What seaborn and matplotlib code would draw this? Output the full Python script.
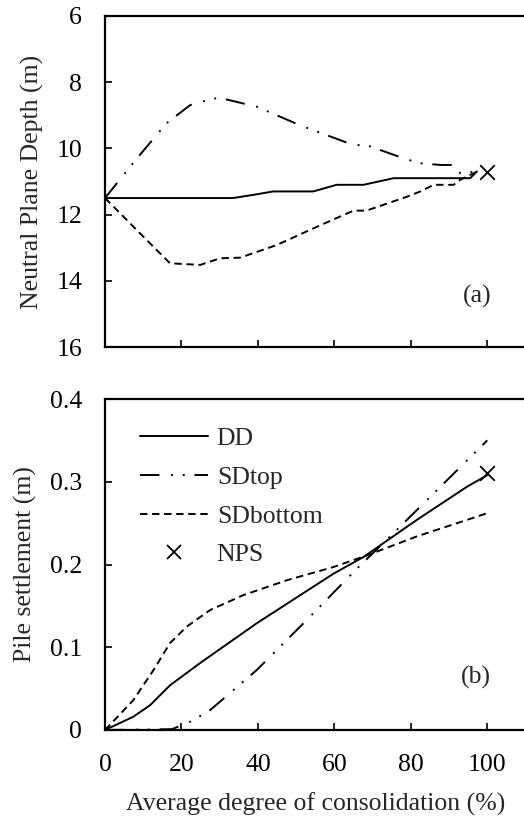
import matplotlib
matplotlib.use("Agg")
import matplotlib.pyplot as plt
import seaborn as sns
import pandas as pd
from matplotlib.lines import Line2D

sns.set_theme(style="ticks")
plt.rcParams['font.family'] = ['Liberation Serif', 'DejaVu Serif']

# ---- Panel (a): neutral plane depth ----
dd_a_x = [0, 10, 20, 30, 33.5, 39, 44, 54.5, 60.6, 67.6, 75.5, 85, 95.5, 97.3]
dd_a_y = [11.5, 11.5, 11.5, 11.5, 11.5, 11.4, 11.3, 11.3, 11.1, 11.1, 10.9, 10.9, 10.9, 10.7]

sdtop_a_x = [0, 8, 16.1, 22.3, 28.4, 31, 39.7, 51, 65, 68.4, 78.1, 82.5, 87.7, 91.6, 92.9, 97.3]
sdtop_a_y = [11.5, 10.35, 9.24, 8.69, 8.49, 8.5, 8.74, 9.3, 9.9, 9.9, 10.3, 10.45, 10.5, 10.5, 10.75, 10.7]

sdbot_a_x = [0, 9.2, 17, 24.9, 30.1, 35.4, 44.9, 55.4, 65, 68.4, 79, 82.5, 86, 91.2, 92.9, 97.3]
sdbot_a_y = [11.5, 12.57, 13.47, 13.52, 13.32, 13.3, 12.92, 12.37, 11.88, 11.88, 11.46, 11.3, 11.1, 11.1, 10.95, 10.7]

nps_a_x = [100]
nps_a_y = [10.7]

# ---- Panel (b): pile settlement ----
dd_b_x = [0, 7.4, 11.8, 17, 24.9, 39.7, 59.8, 67.6, 81.6, 94.7, 100]
dd_b_y = [0, 0.016, 0.030, 0.054, 0.081, 0.129, 0.189, 0.209, 0.254, 0.294, 0.308]

sdtop_b_x = [0, 17.5, 22.3, 27.5, 39.7, 52.8, 65.9, 75.5, 86, 100]
sdtop_b_y = [0, 0.001, 0.010, 0.024, 0.0725, 0.133, 0.195, 0.238, 0.286, 0.350]

sdbot_b_x = [0, 7.4, 12.7, 17, 21.4, 27.5, 36.2, 47.6, 59.8, 68.5, 81.6, 100]
sdbot_b_y = [0, 0.036, 0.0725, 0.105, 0.125, 0.145, 0.163, 0.181, 0.197, 0.211, 0.234, 0.262]

nps_b_x = [100]
nps_b_y = [0.31]

labels = ["DD", "SDtop", "SDbottom", "NPS"]

W, H = 524, 825
fig = plt.figure(figsize=(W / 100, H / 100), dpi=100)
left = 105 / W
width = 420.5 / W
ax1 = fig.add_axes([left, 1 - 347 / H, width, 331 / H])
ax2 = fig.add_axes([left, 1 - 730 / H, width, 331 / H])

lw = 1.4
dashdotdot = (10, 6, 1, 5, 1, 5)
dashed = (3.8, 2.4)

def draw(ax, dx, dy, tx, ty, bx, by, nx, ny):
    sns.lineplot(x=dx, y=dy, ax=ax, color='black', lw=lw, sort=False, estimator=None)
    sns.lineplot(x=tx, y=ty, ax=ax, color='black', lw=lw, sort=False, estimator=None)
    ax.lines[-1].set_dashes(dashdotdot)
    sns.lineplot(x=bx, y=by, ax=ax, color='black', lw=lw, sort=False, estimator=None)
    ax.lines[-1].set_dashes(dashed)
    sns.scatterplot(x=nx, y=ny, ax=ax, marker='x', color='black', s=110, linewidth=1.3, zorder=5)

draw(ax1, dd_a_x, dd_a_y, sdtop_a_x, sdtop_a_y, sdbot_a_x, sdbot_a_y, nps_a_x, nps_a_y)
draw(ax2, dd_b_x, dd_b_y, sdtop_b_x, sdtop_b_y, sdbot_b_x, sdbot_b_y, nps_b_x, nps_b_y)

fs = 18.5
for ax in (ax1, ax2):
    ax.set_xlim(0, 110)
    ax.set_xticks([0, 20, 40, 60, 80, 100])
    ax.tick_params(direction='in', length=5, width=1.2, labelsize=fs, colors='black')
    ax.tick_params(axis='y', pad=16.5)
    ax.tick_params(axis='x', pad=17)
    for s in ax.spines.values():
        s.set_linewidth(1.6)
        s.set_color('black')
    ax.set_xlabel('')

ax1.set_ylim(16, 6)
ax1.set_yticks([6, 8, 10, 12, 14, 16])
ax1.tick_params(axis='x', labelbottom=False)
ax1.set_ylabel('Neutral Plane Depth (m)', fontsize=fs, labelpad=9)
ax1.text(97.4, 14.48, '(a)', fontsize=fs, ha='center', va='center')

ax2.set_ylim(0, 0.4)
ax2.set_yticks([0, 0.1, 0.2, 0.3, 0.4])
ax2.set_yticklabels(['0', '0.1', '0.2', '0.3', '0.4'])
ax2.set_ylabel('Pile settlement (m)', fontsize=fs, labelpad=9)
ax2.set_xlabel('Average degree of consolidation (%)', fontsize=fs, labelpad=12)
ax2.text(97, 0.064, '(b)', fontsize=fs, ha='center', va='center')

handles = [
    Line2D([], [], color='black', lw=lw),
    Line2D([], [], color='black', lw=lw, dashes=dashdotdot),
    Line2D([], [], color='black', lw=lw, dashes=dashed),
    Line2D([], [], color='black', lw=0, marker='x', markersize=10, markeredgewidth=1.3),
]
ax2.legend(handles, labels, loc='upper left', frameon=False, fontsize=fs,
           handlelength=2.65, handletextpad=0.35, labelspacing=0.62,
           bbox_to_anchor=(0.0, 1.021), borderaxespad=0.5, borderpad=0.85)

fig.savefig('out.png', dpi=100)
